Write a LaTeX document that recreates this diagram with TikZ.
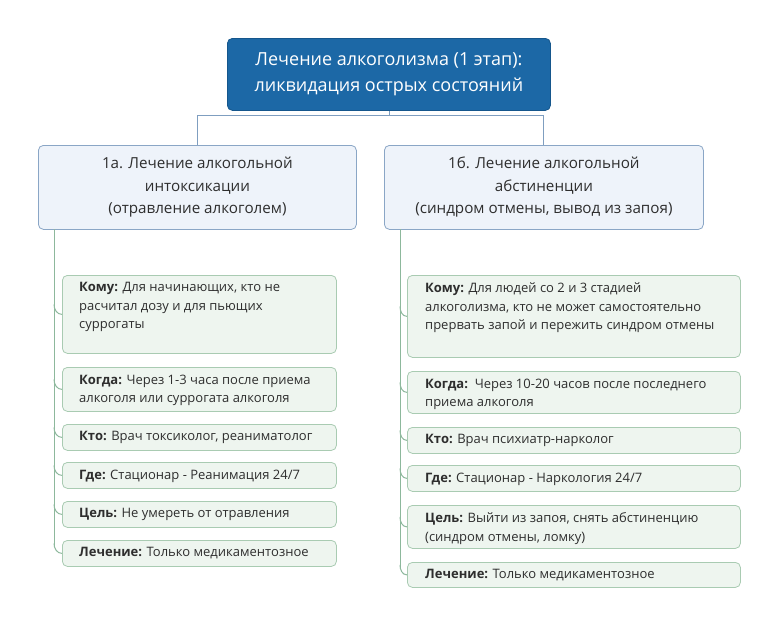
\documentclass[tikz,border=0pt]{standalone}
\usepackage{fontspec}
\setmainfont{Open Sans}
\usetikzlibrary{calc}
\definecolor{rootfill}{HTML}{1C68A6}
\definecolor{rootdraw}{HTML}{15568C}
\definecolor{subfill}{HTML}{EEF3FA}
\definecolor{subdraw}{HTML}{8AA6C6}
\definecolor{chfill}{HTML}{EEF5EF}
\definecolor{chdraw}{HTML}{A9CBB2}
\definecolor{txt}{HTML}{2E2E2E}
\definecolor{topline}{HTML}{7F9EC0}
\definecolor{brline}{HTML}{8DB89C}
\tikzset{
  x=1pt, y=-1pt,
  rootbox/.style={draw=rootdraw, fill=rootfill, rounded corners=5pt, line width=0.8pt, anchor=north west, inner sep=0pt},
  subbox/.style={draw=subdraw, fill=subfill, rounded corners=5pt, line width=0.8pt, anchor=north west, inner sep=0pt},
  chbox/.style={draw=chdraw, fill=chfill, rounded corners=5pt, line width=0.8pt, anchor=north west, inner sep=0pt},
  roottxt/.style={text=white, font=\fontsize{18}{26}\selectfont, align=center},
  subtxt/.style={text=txt, font=\fontsize{15.2}{22.5}\selectfont, align=center},
  chtxt/.style={text=txt, font=\fontsize{13}{18.5}\selectfont, align=left, anchor=north west, inner sep=0pt},
  topconn/.style={draw=topline, line width=0.8pt},
  brconn/.style={draw=brline, line width=1pt},
}
\newcommand\citem[7]{%
  \node[chbox, minimum width=#4, minimum height=#5] (#1) at (#2,#3) {};
  \node[chtxt] (#1t) at ($(#1.north west)+(#6,7.5)$) {#7};
}
\begin{document}
\begin{tikzpicture}
\useasboundingbox (0,0) rectangle (778,625);
\fill[white] (0,0) rectangle (778,625);
% root
\node[rootbox, minimum width=323, minimum height=72] (root) at (227,38) {};
\node[roottxt] (roott) at (root.center) {Лечение алкоголизма (1 этап):\\ликвидация острых состояний};
% sub boxes
\node[subbox, minimum width=318, minimum height=84] (a) at (38,145) {};
\node[subtxt] (at) at (a.center) {1а. Лечение алкогольной\\интоксикации\\(отравление алкоголем)};
\node[subbox, minimum width=319, minimum height=84] (b) at (384,145) {};
\node[subtxt] (bt) at (b.center) {1б. Лечение алкогольной\\абстиненции\\(синдром отмены, вывод из запоя)};
% top connectors
\coordinate (bar) at (388,115);
\draw[topconn] (root.south) -- (root.south |- bar);
\draw[topconn] (a.north -| 197,0) -- (197,115) -- (543,115) -- (b.north -| 543,0);
% left children
\citem{l1}{62}{275}{274}{78}{17}{\textbf{Кому:} Для начинающих, кто не\\расчитал дозу и для пьющих\\суррогаты}
\citem{l2}{62}{367}{274}{44}{17}{\textbf{Когда:} Через 1-3 часа после приема\\алкоголя или суррогата алкоголя}
\citem{l3}{62}{424}{274}{26}{17}{\textbf{Кто:} Врач токсиколог, реаниматолог}
\citem{l4}{62}{462}{274}{26}{17}{\textbf{Где:} Стационар - Реанимация 24/7}
\citem{l5}{62}{501}{274}{26}{17}{\textbf{Цель:} Не умереть от отравления}
\citem{l6}{62}{540}{274}{26}{17}{\textbf{Лечение:} Только медикаментозное}
% right children
\citem{r1}{407}{275}{333}{82}{18}{\textbf{Кому:} Для людей со 2 и 3 стадией\\алкоголизма, кто не может самостоятельно\\прервать запой и пережить синдром отмены}
\citem{r2}{407}{371}{333}{42}{18}{\textbf{Когда:}\ \ Через 10-20 часов после последнего\\приема алкоголя}
\citem{r3}{407}{427}{333}{26}{18}{\textbf{Кто:} Врач психиатр-нарколог}
\citem{r4}{407}{465}{333}{26}{18}{\textbf{Где:} Стационар - Наркология 24/7}
\citem{r5}{407}{505}{333}{43}{18}{\textbf{Цель:} Выйти из запоя, снять абстиненцию\\(синдром отмены, ломку)}
\citem{r6}{407}{562}{333}{25}{18}{\textbf{Лечение:} Только медикаментозное}
% left branch line
\draw[brconn] (54,229) -- (54,545);
\foreach \n in {l1,l2,l3,l4,l5,l6}{
  \draw[brconn] ($(\n.west)+(-8,-10)$) to[out=-90,in=180] (\n.west);
}
\draw[brconn] (400,229) -- (400,567);
\foreach \n in {r1,r2,r3,r4,r5,r6}{
  \draw[brconn] ($(\n.west)+(-7,-10)$) to[out=-90,in=180] (\n.west);
}
\end{tikzpicture}
\end{document}
